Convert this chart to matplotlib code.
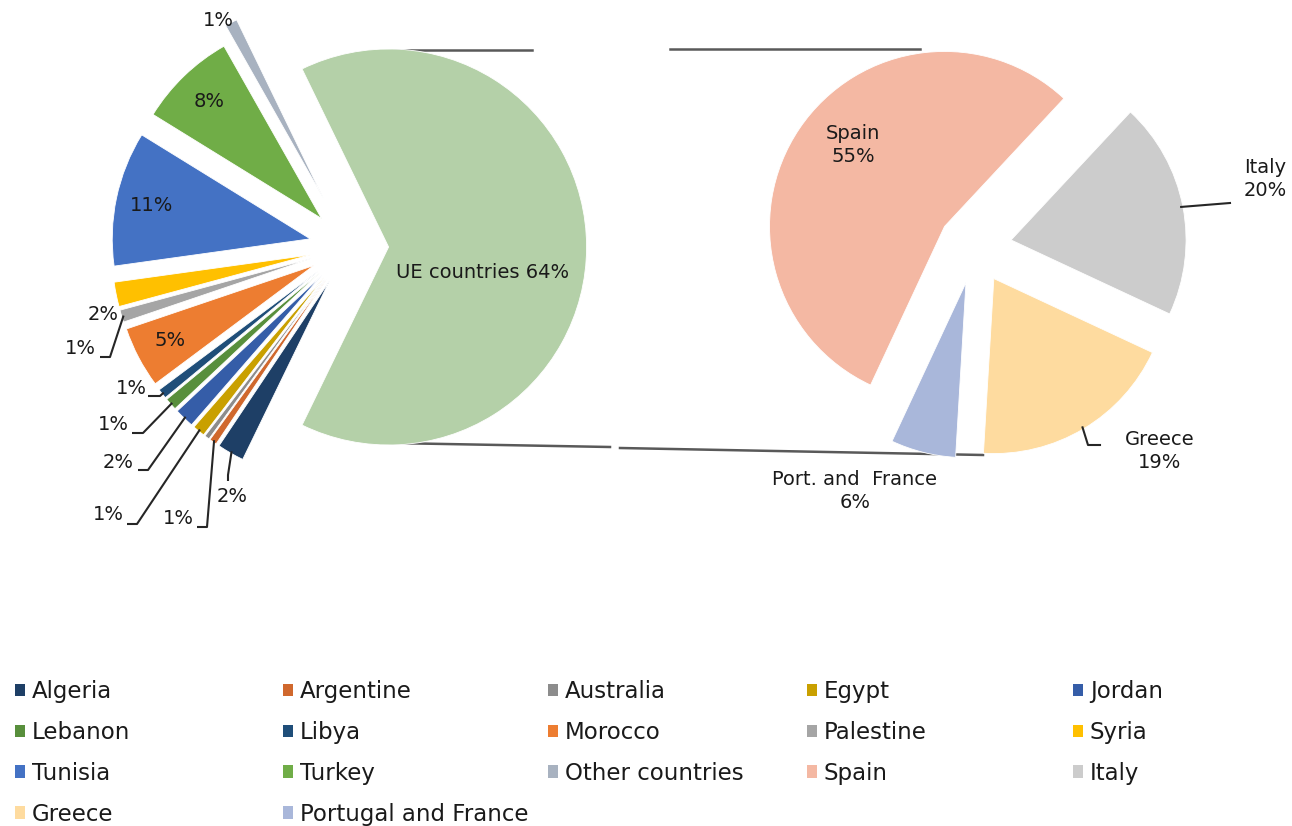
import matplotlib
matplotlib.use("Agg")
import math
import matplotlib.pyplot as plt
from matplotlib.patches import Patch

W, H = 1292, 826

# main pie, listed clockwise starting with the EU slice
countries = ["UE countries", "Algeria", "Argentine", "Australia", "Egypt", "Jordan",
             "Lebanon", "Libya", "Morocco", "Palestine", "Syria", "Tunisia",
             "Turkey", "Other countries"]
shares = [64.4, 2.2, 0.6, 0.4, 1.0, 1.6, 1.0, 0.8, 5.0, 1.0, 2.0, 11.0, 8.0, 1.0]
country_colors = ["#B4D0A8", "#1E3F66", "#D0682D", "#8C8C8C", "#C9A000", "#355DA8",
                  "#588F3C", "#1F4E79", "#ED7D31", "#A5A5A5", "#FFC000", "#4472C4",
                  "#70AD47", "#A8B2C0"]

# breakdown of the EU slice
eu_countries = ["Spain", "Italy", "Greece", "Portugal and France"]
eu_labels = ["Spain", "Italy", "Greece", "Port. and  France"]
eu_shares = [55, 20, 19, 6]
eu_colors = ["#F4B8A3", "#CCCCCC", "#FEDB9F", "#A9B7DA"]

plt.rcParams["font.family"] = ["DejaVu Sans"]
TXT = "#1A1A1A"


def P(x, y):
    # picture pixel coords -> axes data coords
    return x, H - y


fig = plt.figure(figsize=(W / 100, H / 100), dpi=100)
ax = fig.add_axes([0, 0, 1, 1])

R1, C1 = 198, P(349, 247)
R2, C2 = 175, P(975, 247)

expl1 = [0.2 * R1] * len(shares)
expl1[-1] = 0.28 * R1
w1, _ = ax.pie(shares, colors=country_colors, radius=R1, center=C1,
               startangle=shares[0] / 100 * 180, counterclock=False,
               explode=expl1, wedgeprops=dict(edgecolor="white", linewidth=0.6))

w2, _ = ax.pie(eu_shares, colors=eu_colors, radius=R2, center=C2,
               startangle=245, counterclock=False,
               explode=[0.21 * R2] * len(eu_shares),
               wedgeprops=dict(edgecolor="white", linewidth=0.6))

ax.set_xlim(0, W)
ax.set_ylim(0, H)
ax.axis("off")

# connector lines between the two pies
line_kw = dict(color="#595959", lw=1.8, zorder=0)
ax.plot(*zip(P(395, 50), P(532, 50)), **line_kw)
ax.plot(*zip(P(670, 49), P(920, 49)), **line_kw)
ax.plot(*zip(P(390, 443), P(610, 447)), **line_kw)
ax.plot(*zip(P(620, 448), P(983, 455)), **line_kw)


def mid_point(w, frac=1.0):
    a = math.radians((w.theta1 + w.theta2) / 2)
    cx, cy = w.center
    return cx + frac * w.r * math.cos(a), cy + frac * w.r * math.sin(a)


lab_kw = dict(fontsize=14, color=TXT, ha="center", va="center")

# labels inside / next to the bigger slices
for name in ["Morocco", "Tunisia", "Turkey"]:
    i = countries.index(name)
    ax.text(*mid_point(w1[i], 0.82), f"{round(shares[i])}%", **lab_kw)
ax.text(*P(103, 314), f"{round(shares[countries.index('Syria')])}%", **lab_kw)
ax.text(*P(218, 21), f"{round(shares[countries.index('Other countries')])}%", **lab_kw)
ax.text(*P(483, 272), f"{countries[0]} {round(shares[0])}%", **lab_kw)

# small slices with leader lines: text centre, elbow start, elbow end
leaders = {
    "Palestine": ((80, 348), (100, 357), (110, 357)),
    "Libya": ((131, 388), (148, 396), (160, 396)),
    "Lebanon": ((113, 424), (132, 433), (143, 433)),
    "Jordan": ((118, 462), (138, 470), (148, 470)),
    "Egypt": ((108, 515), (127, 524), (137, 524)),
    "Argentine": ((178, 518), (197, 527), (207, 527)),
    "Algeria": ((232, 497), (228, 481), (228, 475)),
}
for name, (tp, e1, e2) in leaders.items():
    i = countries.index(name)
    ax.text(*P(*tp), f"{round(shares[i])}%", **lab_kw)
    tip = mid_point(w1[i], 0.99)
    xs, ys = zip(P(*e1), P(*e2), tip)
    ax.plot(xs, ys, color="#262626", lw=1.5, solid_capstyle="butt")

# second pie labels
ax.text(*P(853, 145), f"{eu_labels[0]}\n{eu_shares[0]}%", linespacing=1.25, **lab_kw)
ax.text(*P(1265, 179), f"{eu_labels[1]}\n{eu_shares[1]}%", linespacing=1.25, **lab_kw)
ax.plot(*zip(mid_point(w2[1], 0.99), P(1230, 203)), color="#262626", lw=1.5)
ax.text(*P(1160, 451), f"{eu_labels[2]}\n{eu_shares[2]}%", linespacing=1.25, **lab_kw)
ax.plot(*zip(mid_point(w2[2], 0.99), P(1088, 445), P(1100, 445)), color="#262626", lw=1.5)
ax.text(*P(855, 491), f"{eu_labels[3]}\n{eu_shares[3]}%", linespacing=1.25, **lab_kw)

# legend, row by row in 5 columns
leg_names = countries[1:] + eu_countries
leg_colors = country_colors[1:] + eu_colors
col_x = [15, 283, 548, 807, 1073]
for c, x in enumerate(col_x):
    handles = [Patch(facecolor=col, edgecolor="none")
               for col in leg_colors[c::5]]
    fig.legend(handles, leg_names[c::5], loc="upper left",
               bbox_to_anchor=(x / W, 1 - 680 / H), frameon=False,
               fontsize=16.5, handlelength=0.45, handleheight=0.45,
               handletextpad=0.28, labelspacing=0.78, borderpad=0,
               borderaxespad=0, labelcolor=TXT)

fig.savefig("out.png", dpi=100)
